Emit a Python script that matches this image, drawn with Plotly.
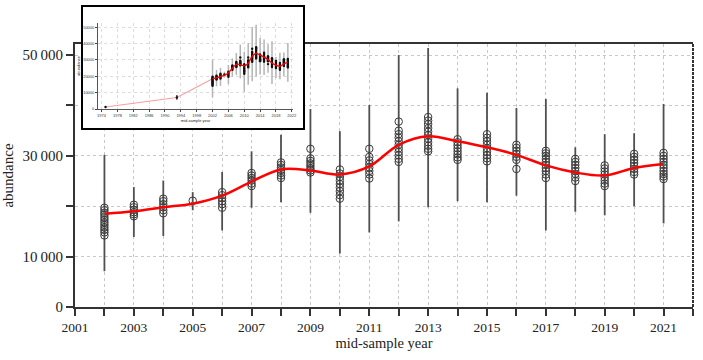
import plotly.graph_objects as go

# ---------------- data ----------------
years = list(range(2002, 2022))
ci_low = [7100, 13900, 14100, 19200, 15200, 19700, 20800, 18700, 10600, 14800,
          17000, 19800, 21000, 20800, 22100, 15200, 18900, 18200, 20000, 16600]
ci_high = [30200, 23800, 25100, 22800, 26800, 30900, 34200, 39300, 34900, 40100,
           50000, 51400, 43400, 42500, 39500, 41300, 31700, 34300, 34500, 40300]
trend = [18500, 19000, 19800, 20500, 22100, 24900, 27300, 27100, 26300, 27900,
         32200, 33900, 32900, 31700, 30200, 28100, 26700, 26100, 27600, 28400]
estimates = [
    [19700, 19200, 18700, 18300, 17800, 17300, 16800, 16300, 15800, 15300, 14800, 14200],
    [20300, 19800, 19300, 18800, 18400, 18000],
    [21500, 21000, 20400, 19800, 19200, 18600],
    [21100],
    [22800, 22200, 21600, 21000, 20400, 19700],
    [26600, 26100, 25600, 25100, 24500, 24000],
    [28700, 28200, 27700, 27200, 26600, 26100, 25600],
    [31400, 29500, 29000, 28500, 28000, 27500, 27100, 26700],
    [27300, 26500, 25800, 25100, 24400, 23700, 23000, 22200, 21500],
    [31400, 29800, 29100, 28400, 27700, 27000, 26300, 25500],
    [36800, 35000, 34300, 33600, 32900, 32200, 31500, 30800, 30100, 29400, 28800],
    [37700, 37000, 36300, 35500, 34800, 34100, 33400, 32700, 32000, 31400, 30900],
    [33300, 32700, 32100, 31500, 30900, 30300, 29700, 29200],
    [34300, 33600, 32900, 32200, 31500, 30800, 30100, 29500, 28900],
    [32200, 31600, 31000, 30400, 29800, 29200, 27400],
    [31000, 30500, 30000, 29400, 28800, 28200, 27600, 27000, 26300, 25600],
    [29400, 28800, 28200, 27600, 27000, 26400, 25700, 25000],
    [28100, 27500, 26900, 26300, 25700, 25100, 24500, 24000],
    [30400, 29800, 29200, 28600, 28000, 27400, 26800, 26300],
    [30600, 30000, 29400, 28800, 28200, 27600, 27000, 26400, 25900, 25400],
]
early_years = [1975, 1993]
early_values = [1200, 7000]
early_low = [900, 5600]
early_high = [1500, 8500]

y_ticks = [0, 10000, 20000, 30000, 40000, 50000]
y_ticktext = ["0", "10\u2009000", "", "30\u2009000", "", "50\u2009000"]
inset_y_ticktext = ["0", "10000", "20000", "30000", "40000", "50000"]

# ---------------- helpers ----------------
def seg_xy(xs, lows, highs):
    sx, sy = [], []
    for x, lo, hi in zip(xs, lows, highs):
        sx += [x, x, None]
        sy += [lo, hi, None]
    return sx, sy

est_x, est_y = [], []
for yr, vals in zip(years, estimates):
    est_x += [yr] * len(vals)
    est_y += vals

ci_x, ci_y = seg_xy(years, ci_low, ci_high)
eci_x, eci_y = seg_xy(early_years, early_low, early_high)

fig = go.Figure()

# ---------------- main panel ----------------
fig.add_trace(go.Scatter(x=ci_x, y=ci_y, mode="lines",
                         line=dict(color="#505050", width=1.8), hoverinfo="skip"))
fig.add_trace(go.Scatter(x=est_x, y=est_y, mode="markers",
                         marker=dict(symbol="circle-open", size=7.5,
                                     color="#3a3a3a", line=dict(width=1))))
fig.add_trace(go.Scatter(x=years, y=trend, mode="markers",
                         marker=dict(symbol="square", size=3.5, color="#2a9494")))
fig.add_trace(go.Scatter(x=years, y=trend, mode="lines",
                         line=dict(color="#ff0000", width=2.5, shape="spline", smoothing=1.0)))

# ---------------- inset box (covers main grid) ----------------
fig.add_trace(go.Scatter(x=[], y=[], xaxis="x2", yaxis="y2"))

# ---------------- inset panel ----------------
fig.add_trace(go.Scatter(x=early_years + [years[0]], y=early_values + [trend[0]],
                         mode="lines", line=dict(color="#f4a0a0", width=1.2),
                         xaxis="x3", yaxis="y3"))
fig.add_trace(go.Scatter(x=ci_x, y=ci_y, mode="lines",
                         line=dict(color="#b4b4b4", width=1.5),
                         xaxis="x3", yaxis="y3"))
fig.add_trace(go.Scatter(x=eci_x, y=eci_y, mode="lines",
                         line=dict(color="#222222", width=1.2),
                         xaxis="x3", yaxis="y3"))
fig.add_trace(go.Scatter(x=est_x, y=est_y, mode="markers",
                         marker=dict(symbol="circle", size=2.4, color="#111111"),
                         xaxis="x3", yaxis="y3"))
fig.add_trace(go.Scatter(x=early_years, y=early_values, mode="markers",
                         marker=dict(symbol="circle", size=2.4, color="#111111"),
                         xaxis="x3", yaxis="y3"))
fig.add_trace(go.Scatter(x=years, y=trend, mode="lines",
                         line=dict(color="#ff0000", width=1.3, shape="spline", smoothing=1.0),
                         xaxis="x3", yaxis="y3"))

serif = "Liberation Serif"
grid_col = "#c8c8c8"

fig.update_layout(
    width=703, height=360,
    margin=dict(l=75, r=10, t=0, b=53, autoexpand=False),
    paper_bgcolor="#ffffff", plot_bgcolor="white",
    showlegend=False,
    font=dict(family=serif, color="#222222"),
    xaxis=dict(
        domain=[0, 1], range=[2001, 2022], automargin=False,
        tickmode="linear", tick0=2001, dtick=2, tickformat="d",
        ticks="outside", ticklen=7, tickwidth=1.5, tickcolor="#333333",
        tickfont=dict(family=serif, size=13.5, color="#222222"),
        showgrid=True, gridcolor=grid_col, griddash="dot", gridwidth=1.2,
        minor=dict(tickmode="linear", tick0=2001, dtick=1, ticks="outside",
                   ticklen=7, tickwidth=1.5, tickcolor="#333333",
                   showgrid=True, gridcolor=grid_col, griddash="dot", gridwidth=1.2),
        showline=True, linecolor="#333333", linewidth=2, mirror=True,
        zeroline=False,
        title=dict(text="mid-sample year", font=dict(family=serif, size=14.5), standoff=4),
    ),
    yaxis=dict(
        domain=[0, 263 / 307], range=[0, 52200], automargin=False,
        tickmode="array", tickvals=y_ticks, ticktext=y_ticktext,
        ticks="outside", ticklen=7, tickwidth=1.5, tickcolor="#333333",
        tickfont=dict(family=serif, size=15, color="#222222"),
        showgrid=True, gridcolor=grid_col, griddash="dot", gridwidth=1.2,
        showline=True, linecolor="#333333", linewidth=2, mirror=False,
        zeroline=False,
        title=dict(text="abundance", font=dict(family=serif, size=15), standoff=6),
    ),
    xaxis2=dict(
        domain=[(83 - 75) / 618, (303 - 75) / 618], anchor="y2", range=[0, 1],
        showgrid=False, zeroline=False, showticklabels=False, ticks="",
        showline=True, mirror=True, linecolor="#000000", linewidth=2,
    ),
    yaxis2=dict(
        domain=[(307 - 128) / 307, (307 - 7) / 307], anchor="x2", range=[0, 1],
        showgrid=False, zeroline=False, showticklabels=False, ticks="",
        showline=True, mirror=True, linecolor="#000000", linewidth=2,
    ),
    xaxis3=dict(
        domain=[(98 - 75) / 618, (293 - 75) / 618], anchor="y3", automargin=False,
        range=[1973.1, 2022.3],
        tickmode="linear", tick0=1974, dtick=4, tickformat="d",
        ticks="outside", ticklen=2, tickwidth=0.8, tickcolor="#444444",
        tickfont=dict(family="Liberation Sans", size=4, color="#333333"),
        showgrid=True, gridcolor="#dddddd", griddash="dot", gridwidth=0.8,
        showline=True, linecolor="#555555", linewidth=0.8,
        zeroline=False,
        title=dict(text="mid-sample year", font=dict(family="Liberation Sans", size=4), standoff=2),
    ),
    yaxis3=dict(
        domain=[(307 - 109) / 307, (307 - 23) / 307], anchor="x3", automargin=False,
        range=[0, 52500],
        tickmode="array", tickvals=y_ticks, ticktext=inset_y_ticktext,
        ticks="outside", ticklen=2, tickwidth=0.8, tickcolor="#444444",
        tickfont=dict(family="Liberation Sans", size=4, color="#333333"),
        showgrid=True, gridcolor="#dddddd", griddash="dot", gridwidth=0.8,
        showline=True, linecolor="#555555", linewidth=0.8,
        zeroline=False,
        title=dict(text="abundance", font=dict(family="Liberation Sans", size=4), standoff=2),
    ),
    shapes=[dict(type="line", xref="x domain", yref="y domain",
                 x0=1, x1=1, y0=0, y1=1,
                 line=dict(color="#333333", width=2, dash="3px,1px"))],
)

fig.write_html(
    "out.html",
    config={"displayModeBar": False},
    post_script="document.body.style.margin='0';document.body.style.overflow='hidden';",
)
